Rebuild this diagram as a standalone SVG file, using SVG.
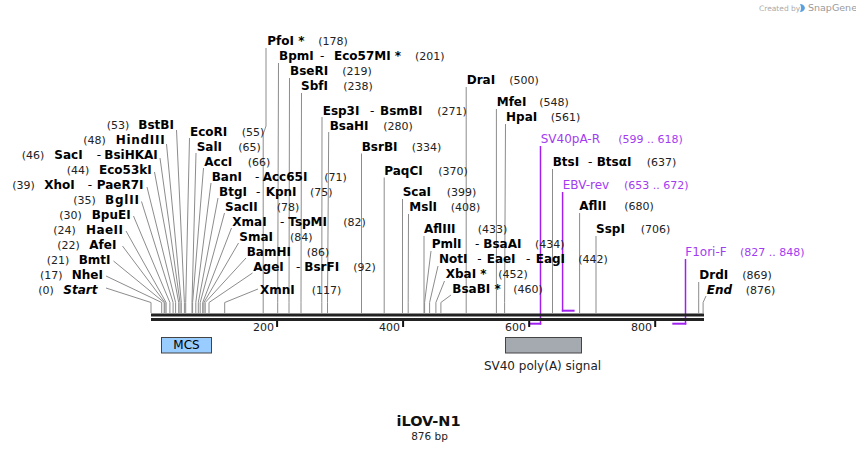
<svg xmlns="http://www.w3.org/2000/svg" width="856" height="453" viewBox="0 0 856 453">
<style>
text{font-family:"DejaVu Sans",Verdana,sans-serif}
.nm{font-size:12px;font-weight:bold;fill:#000}
.it{font-style:italic}
.ds{font-size:12px;fill:#000}
.nu{font-size:11px;fill:#222}
.pr{font-size:12px;fill:#a23cf0}
.prn{font-size:11px;fill:#a23cf0}
.tk{font-size:11px;fill:#222}
.ln{stroke:#8c8c8c;stroke-width:1;fill:none}
.pl{stroke:#a020f0;fill:none}
.bb{stroke:#222;stroke-width:3}
.tick{stroke:#111;stroke-width:2}
.feat{stroke:#444;stroke-width:1}
</style>
<rect width="856" height="453" fill="#fff"/>
<g id="watermark">
<text x="759" y="11" style="font-size:7.5px;fill:#aaa">Created by</text>
<path d="M800,4 q4,0 5,4 q-1,4 -5,4 q2,-4 0,-8z" fill="#5aa0dc"/>
<text x="808" y="11" style="font-size:9.5px;fill:#9a9a9a">SnapGene</text>
</g>
<g id="primers">
<path class="pl" stroke-width="1.5" d="M540.5,146V324.5"/>
<path class="pl" stroke-width="2" d="M528.6,323.7H541.3"/>
<path class="pl" stroke-width="1.5" d="M562.6,192V311.5"/>
<path class="pl" stroke-width="2" d="M561.8,310.7H574.6"/>
<path class="pl" stroke-width="1.5" d="M685.5,259V324.5"/>
<path class="pl" stroke-width="2" d="M672.3,323.7H686.3"/>
</g>
<g id="connectors">
<path class="ln" d="M106,288L151,302.5V313"/>
<path class="ln" d="M106,276L161.7,302.5V313"/>
<path class="ln" d="M113.5,261L164.2,302.5V313"/>
<path class="ln" d="M122.5,246L164.9,302.5V313"/>
<path class="ln" d="M126,231L166.1,302.5V313"/>
<path class="ln" d="M133.5,216L169.9,302.5V313"/>
<path class="ln" d="M141.5,201.5L173.1,302.5V313"/>
<path class="ln" d="M147,187L175.6,302.5V313"/>
<path class="ln" d="M154.5,172L178.7,302.5V313"/>
<path class="ln" d="M160,158L180,302.5V313"/>
<path class="ln" d="M166.5,144L181.3,302.5V313"/>
<path class="ln" d="M176.5,130L184.4,302.5V313"/>
<path class="ln" d="M189.5,138L185.7,302.5V313"/>
<path class="ln" d="M196,153L192,302.5V313"/>
<path class="ln" d="M203.5,168L192.6,302.5V313"/>
<path class="ln" d="M211,183L195.8,302.5V313"/>
<path class="ln" d="M218,198L198.3,302.5V313"/>
<path class="ln" d="M224.5,213L200.2,302.5V313"/>
<path class="ln" d="M231.5,228L202.7,302.5V313"/>
<path class="ln" d="M238.5,243L203.9,302.5V313"/>
<path class="ln" d="M246,258L205.2,302.5V313"/>
<path class="ln" d="M252.5,273L209,302.5V313"/>
<path class="ln" d="M258,289L224.7,302.5V313"/>
<path class="ln" d="M266,48V126L263.2,134V313"/>
<path class="ln" d="M278.5,63L277.7,302.5V313"/>
<path class="ln" d="M289.5,78L289,302.5V313"/>
<path class="ln" d="M301.5,93L301,302.5V313"/>
<path class="ln" d="M322,117L321.8,302.5V313"/>
<path class="ln" d="M328.7,132L327.5,302.5V313"/>
<path class="ln" d="M361.5,153.5V313"/>
<path class="ln" d="M384.2,177.5V313"/>
<path class="ln" d="M402.5,199V313"/>
<path class="ln" d="M408.5,214L408.2,302.5V313"/>
<path class="ln" d="M424,236V313"/>
<path class="ln" d="M431,251L424.6,302.5V313"/>
<path class="ln" d="M438,266L429.6,302.5V313"/>
<path class="ln" d="M444.5,281L435.9,302.5V313"/>
<path class="ln" d="M451,295L440.9,302.5V313"/>
<path class="ln" d="M466.2,87V313"/>
<path class="ln" d="M496.4,109V313"/>
<path class="ln" d="M505.5,124L504.6,302.5V313"/>
<path class="ln" d="M552.5,169V313"/>
<path class="ln" d="M579.6,213V313"/>
<path class="ln" d="M596,236V313"/>
<path class="ln" d="M698.7,282V313"/>
<path class="ln" d="M706,296L703.1,302.5V313"/>
</g>
<g id="backbone">
<line class="bb" x1="151" y1="315" x2="704" y2="315"/>
<line class="bb" x1="151" y1="319.5" x2="704" y2="319.5"/>
<line class="tick" x1="277.1" y1="321" x2="277.1" y2="327"/>
<line class="tick" x1="403.1" y1="321" x2="403.1" y2="327"/>
<line class="tick" x1="529.2" y1="321" x2="529.2" y2="327"/>
<line class="tick" x1="655.2" y1="321" x2="655.2" y2="327"/>
<text class="tk" x="274" y="330.5" text-anchor="end">200</text>
<text class="tk" x="400" y="330.5" text-anchor="end">400</text>
<text class="tk" x="526" y="330.5" text-anchor="end">600</text>
<text class="tk" x="652" y="330.5" text-anchor="end">800</text>
</g>
<g id="f-MCS"><rect class="feat" x="161.5" y="337.5" width="50" height="15.5" fill="#99ccff"/><text class="ds" x="186.5" y="348.5" text-anchor="middle">MCS</text></g>
<g id="f-SV40"><rect class="feat" x="505.5" y="337.5" width="76" height="15.5" fill="#a5aab1"/><text class="ds" x="542.5" y="370" text-anchor="middle" style="fill:#222">SV40 poly(A) signal</text></g>
<g id="e-Start"><text class="nu" x="38.3" y="294">(0)</text><text class="nm it" x="63.3" y="294">Start</text></g>
<g id="e-NheI"><text class="nu" x="40" y="279">(17)</text><text class="nm" x="71.7" y="279">NheI</text></g>
<g id="e-BmtI"><text class="nu" x="46.7" y="264">(21)</text><text class="nm" x="78.7" y="264">BmtI</text></g>
<g id="e-AfeI"><text class="nu" x="57.3" y="249">(22)</text><text class="nm" x="89.3" y="249">AfeI</text></g>
<g id="e-HaeII"><text class="nu" x="53.3" y="234">(24)</text><text class="nm" x="86" y="234" textLength="37" lengthAdjust="spacing">HaeII</text></g>
<g id="e-BpuEI"><text class="nu" x="59.3" y="219">(30)</text><text class="nm" x="91.7" y="219">BpuEI</text></g>
<g id="e-BglII"><text class="nu" x="73.3" y="204">(35)</text><text class="nm" x="105" y="204" textLength="34" lengthAdjust="spacing">BglII</text></g>
<g id="e-XhoI"><text class="nu" x="12.3" y="189">(39)</text><text class="nm" x="44.3" y="189">XhoI</text><text class="ds" x="87.7" y="189">-</text><text class="nm" x="96.7" y="189">PaeR7I</text></g>
<g id="e-Eco53kI"><text class="nu" x="66.7" y="174">(44)</text><text class="nm" x="99" y="174">Eco53kI</text></g>
<g id="e-SacI"><text class="nu" x="21.7" y="159">(46)</text><text class="nm" x="54.3" y="159">SacI</text><text class="ds" x="96.7" y="159">-</text><text class="nm" x="104.3" y="159">BsiHKAI</text></g>
<g id="e-HindIII"><text class="nu" x="83.3" y="144">(48)</text><text class="nm" x="115.7" y="144" textLength="49" lengthAdjust="spacing">HindIII</text></g>
<g id="e-BstBI"><text class="nu" x="106.7" y="129">(53)</text><text class="nm" x="138.3" y="129">BstBI</text></g>
<g id="e-EcoRI"><text class="nm" x="190" y="136">EcoRI</text><text class="nu" x="241.7" y="136">(55)</text></g>
<g id="e-SalI"><text class="nm" x="196.7" y="151">SalI</text><text class="nu" x="238.3" y="151">(65)</text></g>
<g id="e-AccI"><text class="nm" x="204.3" y="166">AccI</text><text class="nu" x="247.7" y="166">(66)</text></g>
<g id="e-BanI"><text class="nm" x="211.7" y="181">BanI</text><text class="ds" x="255" y="181">-</text><text class="nm" x="262.7" y="181">Acc65I</text><text class="nu" x="324.3" y="181">(71)</text></g>
<g id="e-BtgI"><text class="nm" x="219" y="196">BtgI</text><text class="ds" x="256" y="196">-</text><text class="nm" x="265.7" y="196">KpnI</text><text class="nu" x="310" y="196">(75)</text></g>
<g id="e-SacII"><text class="nm" x="225" y="211">SacII</text><text class="nu" x="276.7" y="211">(78)</text></g>
<g id="e-XmaI"><text class="nm" x="232.3" y="226">XmaI</text><text class="ds" x="280" y="226">-</text><text class="nm" x="288.3" y="226">TspMI</text><text class="nu" x="343.3" y="226">(82)</text></g>
<g id="e-SmaI"><text class="nm" x="239.3" y="241">SmaI</text><text class="nu" x="290" y="241">(84)</text></g>
<g id="e-BamHI"><text class="nm" x="246.7" y="256">BamHI</text><text class="nu" x="306.7" y="256">(86)</text></g>
<g id="e-AgeI"><text class="nm" x="253.3" y="271">AgeI</text><text class="ds" x="296" y="271">-</text><text class="nm" x="304.3" y="271">BsrFI</text><text class="nu" x="353.3" y="271">(92)</text></g>
<g id="e-XmnI"><text class="nm" x="260" y="294">XmnI</text><text class="nu" x="311.7" y="294">(117)</text></g>
<g id="e-PfoI"><text class="nm" x="267.3" y="45">PfoI *</text><text class="nu" x="318.3" y="45">(178)</text></g>
<g id="e-BpmI"><text class="nm" x="279" y="60">BpmI</text><text class="ds" x="320" y="60">-</text><text class="nm" x="334" y="60">Eco57MI *</text><text class="nu" x="415" y="60">(201)</text></g>
<g id="e-BseRI"><text class="nm" x="290" y="75">BseRI</text><text class="nu" x="342.3" y="75">(219)</text></g>
<g id="e-SbfI"><text class="nm" x="301" y="90">SbfI</text><text class="nu" x="343.3" y="90">(238)</text></g>
<g id="e-Esp3I"><text class="nm" x="322.7" y="114.5">Esp3I</text><text class="ds" x="370" y="114.5">-</text><text class="nm" x="380" y="114.5">BsmBI</text><text class="nu" x="437.3" y="114.5">(271)</text></g>
<g id="e-BsaHI"><text class="nm" x="329.7" y="129.5">BsaHI</text><text class="nu" x="383.3" y="129.5">(280)</text></g>
<g id="e-BsrBI"><text class="nm" x="361.7" y="150.5">BsrBI</text><text class="nu" x="411.7" y="150.5">(334)</text></g>
<g id="e-PaqCI"><text class="nm" x="384.3" y="174.5">PaqCI</text><text class="nu" x="438.3" y="174.5">(370)</text></g>
<g id="e-ScaI"><text class="nm" x="402.7" y="196">ScaI</text><text class="nu" x="446.7" y="196">(399)</text></g>
<g id="e-MslI"><text class="nm" x="409.3" y="211">MslI</text><text class="nu" x="450.7" y="211">(408)</text></g>
<g id="e-AflIII"><text class="nm" x="424" y="233.3">AflIII</text><text class="nu" x="477.7" y="233.3">(433)</text></g>
<g id="e-PmlI"><text class="nm" x="431.7" y="248">PmlI</text><text class="ds" x="475" y="248">-</text><text class="nm" x="483.3" y="248">BsaAI</text><text class="nu" x="535" y="248">(434)</text></g>
<g id="e-NotI"><text class="nm" x="439" y="263">NotI</text><text class="ds" x="477.3" y="263">-</text><text class="nm" x="486.7" y="263">EaeI</text><text class="ds" x="526" y="263">-</text><text class="nm" x="535.7" y="263">EagI</text><text class="nu" x="578.3" y="263">(442)</text></g>
<g id="e-XbaI"><text class="nm" x="445.7" y="278">XbaI *</text><text class="nu" x="498.3" y="278">(452)</text></g>
<g id="e-BsaBI"><text class="nm" x="452.3" y="293">BsaBI *</text><text class="nu" x="513.3" y="293">(460)</text></g>
<g id="e-DraI"><text class="nm" x="466.7" y="84">DraI</text><text class="nu" x="509.3" y="84">(500)</text></g>
<g id="e-MfeI"><text class="nm" x="496.7" y="106">MfeI</text><text class="nu" x="539.3" y="106">(548)</text></g>
<g id="e-HpaI"><text class="nm" x="506" y="121">HpaI</text><text class="nu" x="550.7" y="121">(561)</text></g>
<g id="p-SV40pA-R"><text class="pr" x="540.7" y="143.3">SV40pA-R</text><text class="prn" x="618.3" y="143.3">(599 .. 618)</text></g>
<g id="e-BtsI"><text class="nm" x="552.7" y="166">BtsI</text><text class="ds" x="588" y="166">-</text><text class="nm" x="596.7" y="166">BtsαI</text><text class="nu" x="646.7" y="166">(637)</text></g>
<g id="p-EBV-rev"><text class="pr" x="562.7" y="189">EBV-rev</text><text class="prn" x="624" y="189">(653 .. 672)</text></g>
<g id="e-AflII"><text class="nm" x="579.3" y="210">AflII</text><text class="nu" x="624.3" y="210">(680)</text></g>
<g id="e-SspI"><text class="nm" x="596" y="233.3">SspI</text><text class="nu" x="640.7" y="233.3">(706)</text></g>
<g id="p-F1ori-F"><text class="pr" x="685.3" y="256">F1ori-F</text><text class="prn" x="740" y="256">(827 .. 848)</text></g>
<g id="e-DrdI"><text class="nm" x="699.3" y="279">DrdI</text><text class="nu" x="742.3" y="279">(869)</text></g>
<g id="e-End"><text class="nm it" x="706.7" y="294">End</text><text class="nu" x="745.7" y="294">(876)</text></g>
<g id="title">
<text x="428.5" y="425.5" text-anchor="middle" style="font-size:14.5px;font-weight:bold;fill:#111">iLOV-N1</text>
<text x="429.5" y="439.5" text-anchor="middle" style="font-size:10.5px;fill:#222">876 bp</text>
</g>
</svg>
